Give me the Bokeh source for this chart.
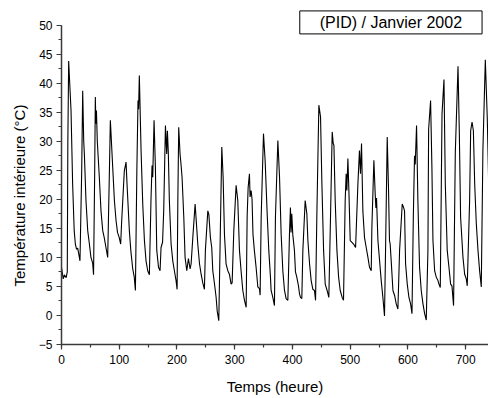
from bokeh.plotting import figure
from bokeh.models import Range1d, SingleIntervalTicker, Label, Title
from bokeh.embed import file_html
from bokeh.resources import INLINE

hours = [0, 3, 5, 8, 10, 11, 12.4, 16.5, 19.3, 22, 24, 26, 28, 30, 32,
         35, 36.7, 38.5, 39.6, 42.4, 45.4, 48.3, 51, 54, 55.5,
         57.5, 58.6, 59.5, 60.5, 62, 65.5, 68.4, 71.4, 74, 77, 80,
         83, 84.6, 88.7, 91.6, 94.5, 97, 100, 102.5,
         104, 108.8, 111.8, 113.5, 117.5, 120, 123.4, 126, 128,
         130.5, 132.5, 133.5, 134.8, 137.8, 140.7, 143.6, 146.4, 149.3, 152.2,
         155, 156.8, 158, 160.3, 162.6, 165, 168, 170.7, 172.4, 175,
         177, 180, 182.2, 183.4, 185, 186.8, 189.8, 192.7, 195.5, 198.4, 200.2,
         201.5, 203, 205.3, 206.5, 208.8, 211.8, 214, 217, 219.8, 222.7, 224.5,
         227.4, 231.4, 233.7, 236, 239, 241.8, 244.7, 247.5,
         249.2, 253.4, 255.2, 257.9, 260.2, 262, 264.9, 267.8, 269.6, 272.4,
         273.5, 277.6, 279.9, 282.2, 285, 288, 290.8, 293.7, 295.5,
         298.4, 302.4, 305.3, 308.2, 311, 314, 316.9, 319.8,
         321.5, 323.2, 325.5, 326.6, 328.4, 330, 331.6, 334, 337, 340, 342.8, 344,
         345.8, 349.8, 352.7, 356, 359, 361.9, 363, 366, 368.8,
         370.5, 374.7, 377.6, 380.4, 383.3, 386.2, 389, 392,
         394.8, 396.5, 397.6, 398.8, 400.5, 403.4, 405.2, 407.5, 410.4, 412.2, 413.9, 416.2,
         418, 422, 424.9, 426.7, 429.6, 432.4, 435.3, 438.1, 440,
         442.2, 445.7, 448.6, 451, 453.9, 456.7, 460, 463,
         465.9, 468.8, 470.6, 471.8, 474, 477, 479.9, 482.7, 486.1, 488.4,
         491.3, 493, 494.2, 496, 497.7, 500, 503, 505.8, 509.3,
         513.3, 516, 517.8, 519.6, 521.9, 524.8, 527.7, 530.7, 533.4, 536.4,
         537.5, 541, 543.3, 544.5, 545.6, 548, 550.9, 553.7, 556.6, 559.4,
         561.2, 564.1, 566.4, 568, 569.2, 571, 574, 577, 579.7, 582.6,
         585.5, 590.1, 592.4, 594.1, 595.9, 598.8, 601.7, 604.6, 607,
         609.3, 611.4, 612.6, 614.9, 617.2, 620.1, 623, 626, 628.9, 631.7,
         634.6, 635.8, 639.2, 641.5, 643.3, 646.2, 649, 652, 653.7, 656,
         657.8, 659, 662.4, 664.7, 668, 671, 673.9, 676.2, 679,
         682, 686.7, 689, 691.2, 695.3, 698.2, 701, 702.7,
         706.8, 708.6, 711, 713.3, 715.6, 718.4, 721.3, 724.1, 727,
         729.8, 734, 737.4, 739.8, 742]

temps = [8.3, 6.3, 7.0, 6.5, 7.5, 30, 43.8, 35.3, 22.6, 14.6, 12.3, 11.4, 11.6, 10.5, 9.4,
         25, 38.7, 30, 27.8, 19.8, 14.6, 12.3, 10, 9, 7,
         25, 37.6, 33, 35.3, 30, 23.8, 18, 14.6, 13.4, 11.7, 10,
         25, 33.6, 25.5, 19.8, 16.3, 14.3, 13.4, 12.3,
         15.8, 24.9, 26.4, 22.6, 14.6, 11.2, 8, 6.6, 4.3,
         25, 37, 35.5, 41.3, 28.4, 19.2, 12.9, 9.4, 7.7, 7,
         20, 25.8, 23.8, 33.6, 25.5, 11.2, 8.3, 7.7, 11.7, 12.6,
         18, 32.7, 27.8, 31.8, 28, 19.8, 12.3, 9.4, 7.7, 6, 4.5,
         20, 32.4, 27.8, 26.6, 23.8, 16.9, 10, 7.7, 9.8, 8, 8.9,
         13.4, 19.2, 15.8, 12.3, 8.9, 7.1, 5.6, 4.5,
         11.2, 18, 17.4, 13.4, 11.7, 7.7, 5.5, 3.1, 0.8, -0.9,
         5.4, 29, 23.8, 14, 8.9, 7.7, 7.1, 5.4, 5.6,
         14.6, 22.4, 19.8, 11.2, 7.7, 4.3, 2.6, 1.4,
         17, 22, 24.4, 20.4, 21.5, 20, 14, 11.2, 8.3, 4.9, 4.6, 3.5,
         16.9, 31.3, 26.6, 18, 11.2, 6.6, 4.3, 3.1, 1.7,
         16.9, 30.1, 23.8, 14, 7.7, 4.3, 2.9, 2.6,
         14, 18.6, 14.3, 17.5, 14, 11.2, 7.5, 6.6, 5.1, 3.7, 3.1, 2.9,
         11.2, 19.8, 17.5, 12.9, 8.9, 6, 4.5, 4.3, 2.6,
         17, 36.2, 34.2, 22.6, 11.2, 5.4, 4.3, 3.1,
         17, 31.6, 29.6, 29.3, 19.8, 11.2, 6.6, 4.3, 3.1, 2.6,
         19.8, 24.4, 21.5, 27, 21.5, 12.9, 12.6, 12.3, 11.7,
         22.6, 28.4, 24.4, 29.6, 18, 13.4, 11.7, 10, 8.3, 7.7,
         15, 26.7, 20.8, 18.5, 20.2, 12.9, 9.4, 6, 3.1, -0.1,
         11.2, 30.7, 21.5, 12.9, 12.3, 9.4, 4.3, 3.4, 2, 1.1,
         11.2, 19.2, 18.6, 18, 8.9, 5.4, 3.1, 2, 0.3,
         17, 27.5, 26, 32.7, 19.8, 8.3, 4.3, 2, 0.3, -0.8,
         11.2, 32, 37, 25.5, 12.9, 7.7, 6.6, 6, 5.4, 4.8,
         22.6, 34.7, 40.6, 22.6, 11.2, 8.3, 5.4, 5.1, 1.7,
         28, 42.9, 31.3, 16.9, 10, 7.1, 6.3, 5.1,
         19.8, 31.8, 33.3, 31.8, 22.6, 15.8, 11.2, 7.7, 4.9,
         28.4, 44, 33.9, 22.6, 16]

x_ticks_interval = 100
y_ticks_interval = 5
legend_text = "(PID) / Janvier 2002"
x_label = "Temps (heure)"
y_label = "Température intérieure (°C)"

FONT = "Liberation Sans"

p = figure(width=488, height=398, output_backend="svg", toolbar_location=None,
           x_range=Range1d(0, 739.5), y_range=Range1d(-5, 54.05),
           min_border_left=61, min_border_right=0, min_border_top=1,
           min_border_bottom=54)
p.outline_line_color = None
p.background_fill_color = "white"
p.border_fill_color = "white"
p.xgrid.visible = False
p.ygrid.visible = False

p.line(hours, temps, line_color="black", line_width=1.1)

p.xaxis.ticker = SingleIntervalTicker(interval=x_ticks_interval, num_minor_ticks=2)
p.yaxis.ticker = SingleIntervalTicker(interval=y_ticks_interval, num_minor_ticks=2)
p.yaxis.bounds = (-5, 50)

for ax in (p.xaxis[0], p.yaxis[0]):
    ax.axis_line_color = "#3a3a3a"
    ax.axis_line_width = 1.5
    ax.major_tick_line_color = "#3a3a3a"
    ax.minor_tick_line_color = "#3a3a3a"
    ax.major_tick_line_width = 1.2
    ax.minor_tick_line_width = 1.2
    ax.major_tick_in = 0
    ax.major_tick_out = 5
    ax.minor_tick_in = 0
    ax.minor_tick_out = 3
    ax.major_label_text_font = FONT
    ax.major_label_text_font_size = "12px"
    ax.major_label_text_color = "black"
    ax.axis_label_text_font = FONT
    ax.axis_label_text_font_size = "15px"
    ax.axis_label_text_font_style = "normal"
    ax.axis_label_text_color = "black"

p.xaxis.axis_label = x_label
p.xaxis.axis_label_standoff = 11
p.xaxis.major_label_standoff = 5
p.yaxis.major_label_standoff = 4

ytitle = Title(text=y_label, align="left", offset=58, standoff=15,
               text_font=FONT, text_font_size="15px", text_font_style="normal",
               text_color="black")
p.add_layout(ytitle, "left")

lab = Label(x=570.5, y=50.45, text=legend_text, text_align="center",
            text_baseline="middle", text_font=FONT, text_font_size="16px",
            text_color="black", border_line_color="black", border_line_width=1,
            background_fill_color="white",
            padding=dict(left=20, right=20, top=3, bottom=3))
p.add_layout(lab)

open("out.html", "w").write(file_html(p, INLINE))
